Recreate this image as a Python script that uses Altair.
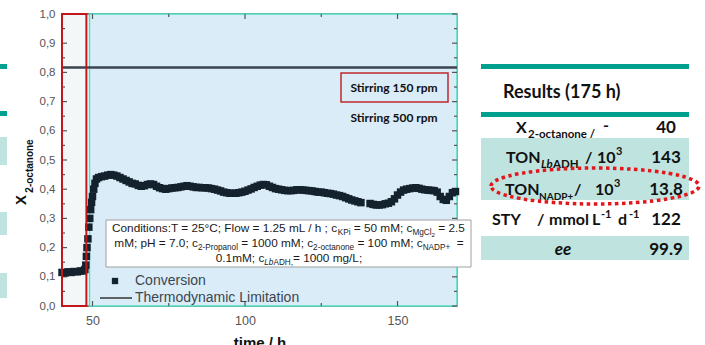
import altair as alt
import pandas as pd

# ---------------- data ----------------
time_h = [40, 41, 42, 43, 44, 45, 46, 47, 47.5, 47.8, 48.0, 48.2, 48.5, 48.8, 49.1, 49.4, 49.7,
          50.0, 50.4, 50.8, 51.3, 52, 53, 54, 55, 56, 57, 58, 59, 60, 61, 62, 63, 64, 65, 66, 67,
          68, 69, 70, 71, 72, 73, 74, 75, 76, 77, 78, 79, 80, 81, 82, 83, 84, 85, 86, 87, 88, 89,
          90, 91, 92, 93, 94, 95, 96, 97, 98, 99, 100, 101, 102, 103, 104, 105, 106, 107, 108,
          109, 110, 111, 112, 113, 114, 115, 116, 117, 118, 119, 120, 121, 122, 123, 124, 125,
          126, 127, 128, 129, 130, 131, 132, 133, 134, 135, 136, 137, 138, 141, 142, 143, 144,
          145, 146, 147, 148, 149, 150, 151, 152, 153, 154, 155, 156, 157, 158, 159, 160, 161,
          162, 163, 164, 165, 166, 167, 168, 169]
conversion = [0.115, 0.113, 0.117, 0.115, 0.118, 0.117, 0.12, 0.12, 0.125, 0.14, 0.17, 0.2, 0.23,
              0.27, 0.30, 0.33, 0.355, 0.375, 0.40, 0.42, 0.435, 0.44, 0.443, 0.445, 0.448, 0.45,
              0.448, 0.445, 0.44, 0.435, 0.43, 0.425, 0.42, 0.418, 0.413, 0.41, 0.412, 0.416,
              0.418, 0.416, 0.41, 0.405, 0.402, 0.40, 0.402, 0.404, 0.405, 0.406, 0.408, 0.41,
              0.412, 0.41, 0.408, 0.406, 0.406, 0.405, 0.405, 0.404, 0.402, 0.40, 0.397, 0.394,
              0.39, 0.388, 0.386, 0.386, 0.386, 0.388, 0.39, 0.393, 0.397, 0.401, 0.406, 0.41,
              0.414, 0.416, 0.415, 0.41, 0.406, 0.402, 0.40, 0.398, 0.396, 0.395, 0.395, 0.396,
              0.398, 0.398, 0.397, 0.396, 0.395, 0.394, 0.392, 0.39, 0.39, 0.388, 0.386, 0.385,
              0.383, 0.38, 0.378, 0.375, 0.371, 0.367, 0.363, 0.36, 0.357, 0.354, 0.351, 0.348,
              0.346, 0.346, 0.347, 0.35, 0.352, 0.357, 0.367, 0.38, 0.39, 0.397, 0.40, 0.402,
              0.404, 0.405, 0.403, 0.40, 0.398, 0.397, 0.396, 0.395, 0.39, 0.375, 0.365, 0.362,
              0.375, 0.388, 0.392]
thermo_limit = [0.817]
phase_start = [40, 49.0]
phase_end = [48, 169.5]
y_tick_values = [0.0, 0.1, 0.2, 0.3, 0.4, 0.5, 0.6, 0.7, 0.8, 0.9, 1.0]
y_minor_ticks = [0.05, 0.15, 0.25, 0.35, 0.45, 0.55, 0.65, 0.75, 0.85, 0.95]
x_tick_values = [50, 100, 150]
x_minor_ticks = [75, 125]
legend_labels = ["Conversion", "Thermodynamic Limitation"]
stirring_labels = ["Stirring  150 rpm", "Stirring 500 rpm"]
results_title = "Results (175 h)"
result_values = ["40", "143", "13.8", "122", "99.9"]

# ---------------- layout ----------------
PL, PT, W, H = 62, 14, 395, 292
X_DOMAIN = [40, 169.5]
xs = alt.Scale(domain=X_DOMAIN, nice=False, zero=False)
ys = alt.Scale(domain=[0, 1], nice=False, zero=False)
X_AXIS = alt.Axis(values=x_tick_values, ticks=False, domain=False, grid=False, labelColor="#555555",
                  labelFontSize=12.5, labelFont="Liberation Sans", labelPadding=8, title=None)
Y_AXIS = alt.Axis(values=y_tick_values, ticks=False, domain=False, grid=False, labelColor="#555555",
                  labelFontSize=11.5, labelFont="Liberation Sans", labelPadding=7, title=None,
                  labelOverlap=False, labelBound=False,
                  labelExpr="replace(format(datum.value, '.1f'), '.', ',')")
ONE = alt.Data(values=[{"a": 1}])


def px(x):
    return x - PL


def py(y):
    return y - PT


def txt(s, x, y, size, weight="normal", style="normal", align="left", baseline="alphabetic",
        color="#111111", font="Lato", angle=None):
    kw = dict(text=s, fontSize=size, fontWeight=weight, fontStyle=style, align=align,
              baseline=baseline, color=color, font=font)
    if angle is not None:
        kw["angle"] = angle
    return alt.Chart(ONE).mark_text(**kw).encode(x=alt.value(px(x)), y=alt.value(py(y)))


def box(x1, x2, y1, y2, fill=None, stroke=None, sw=1.0, opacity=1.0):
    kw = {}
    if fill is not None:
        kw["fill"] = fill
        kw["fillOpacity"] = opacity
    else:
        kw["fillOpacity"] = 0
        kw["fill"] = "white"
    if stroke is not None:
        kw["stroke"] = stroke
        kw["strokeWidth"] = sw
    return alt.Chart(ONE).mark_rect(**kw).encode(
        x=alt.value(px(x1)), x2=alt.value(px(x2)), y=alt.value(py(y1)), y2=alt.value(py(y2)))


# Arial / Liberation Sans advance widths (per 1000 em)
AW = {" ": 278, "(": 333, ")": 333, "+": 584, ",": 278, "-": 333, ".": 278, "/": 278, ":": 278,
      ";": 278, "=": 584, "°": 400, "A": 667, "B": 667, "C": 722, "D": 722, "E": 667, "F": 611,
      "H": 722, "I": 278, "K": 667, "L": 556, "M": 833, "N": 722, "O": 778, "P": 667, "R": 722,
      "S": 667, "T": 611, "a": 556, "b": 556, "c": 500, "d": 556, "e": 556, "g": 556, "h": 556,
      "i": 222, "k": 500, "l": 222, "m": 833, "n": 556, "o": 556, "p": 556, "r": 333, "s": 500,
      "t": 278, "u": 556, "v": 500, "w": 722, "y": 500}


def tw(s, size):
    return sum(AW.get(c, 556) for c in s) / 1000.0 * size


KIND = {"m": (11.8, 0.0), "s": (8.2, 3.0), "ss": (6.2, 5.0)}


def rich_line(segs, y, x_left=None, x_center=None):
    widths = [tw(s, KIND[k][0]) for s, k, _ in segs]
    total = sum(widths)
    x = x_left if x_left is not None else x_center - total / 2.0
    out = []
    for (s, k, it), w in zip(segs, widths):
        size, dy = KIND[k]
        lead = len(s) - len(s.lstrip())
        xd = x + tw(s[:lead], size)
        out.append(txt(s.strip(), xd, y + dy, size, style="italic" if it else "normal",
                       color="#1a1a1a", font="Liberation Sans"))
        x += w
    return out


layers = []

# left-edge slide fragments
for y1, y2 in [(64, 69), (111, 116)]:
    layers.append(box(0, 7, y1, y2, fill="#00a08e"))
for y1, y2 in [(137, 165), (212, 235), (273, 298)]:
    layers.append(box(0, 7, y1, y2, fill="#bfe3df"))

# phase backgrounds
ph = pd.DataFrame({"start": phase_start, "end": phase_end})
layers.append(alt.Chart(ph.iloc[[1]]).mark_rect(fill="#daecf7", stroke="#52e0c4", strokeWidth=1.5).encode(
    x=alt.X("start:Q", scale=xs, axis=X_AXIS), x2="end:Q", y=alt.value(0), y2=alt.value(H)))
layers.append(alt.Chart(ph.iloc[[0]]).mark_rect(fill="#f3f7f7").encode(
    x=alt.X("start:Q", scale=xs, axis=X_AXIS), x2="end:Q", y=alt.value(0), y2=alt.value(H)))

# inward ticks
TC = "#555555"
ytk = pd.DataFrame({"v": y_tick_values})
ymn = pd.DataFrame({"v": y_minor_ticks})
xtk = pd.DataFrame({"v": x_tick_values})
xmn = pd.DataFrame({"v": x_minor_ticks})
for df, ln in [(ytk, 5), (ymn, 3)]:
    layers.append(alt.Chart(df).mark_rule(color=TC, strokeWidth=1.2).encode(
        y=alt.Y("v:Q", scale=ys, axis=Y_AXIS), x=alt.value(0), x2=alt.value(ln)))
    layers.append(alt.Chart(df).mark_rule(color=TC, strokeWidth=1.2).encode(
        y=alt.Y("v:Q", scale=ys, axis=Y_AXIS), x=alt.value(W - ln), x2=alt.value(W)))
for df, ln in [(xtk, 5), (xmn, 3)]:
    layers.append(alt.Chart(df).mark_rule(color=TC, strokeWidth=1.2).encode(
        x=alt.X("v:Q", scale=xs, axis=X_AXIS), y=alt.value(H - ln), y2=alt.value(H)))
    layers.append(alt.Chart(df).mark_rule(color=TC, strokeWidth=1.2).encode(
        x=alt.X("v:Q", scale=xs, axis=X_AXIS), y=alt.value(0), y2=alt.value(ln)))

# thermodynamic limitation
layers.append(alt.Chart(pd.DataFrame({"t": thermo_limit})).mark_rule(color="#3a4550", strokeWidth=2.5).encode(
    y=alt.Y("t:Q", scale=ys, axis=Y_AXIS)))

# conversion data
conv_df = pd.DataFrame({"time": time_h, "conv": conversion})
layers.append(alt.Chart(conv_df).mark_square(size=56, color="#14222e", opacity=1).encode(
    x=alt.X("time:Q", scale=xs, axis=X_AXIS),
    y=alt.Y("conv:Q", scale=ys, axis=Y_AXIS)))

# red box of first phase (outline)
layers.append(alt.Chart(ph.iloc[[0]]).mark_rect(fillOpacity=0, fill="white", stroke="#c0161c", strokeWidth=2).encode(
    x=alt.X("start:Q", scale=xs, axis=X_AXIS), x2="end:Q", y=alt.value(0), y2=alt.value(H)))

# stirring annotations
layers.append(box(341, 448, 73, 102, stroke="#c0282d", sw=1.5))
layers.append(txt(stirring_labels[0], 394, 88, 12, weight="bold", align="center", baseline="middle"))
layers.append(txt(stirring_labels[1], 394, 118, 12, weight="bold", align="center", baseline="middle"))

# conditions box
layers.append(box(106, 471, 220, 267, fill="white", stroke="#a0a0a0", sw=1))
line1 = [("Conditions:T = 25°C; Flow = 1.25 mL / h ; c", "m", False), ("KPi", "s", False),
         (" = 50 mM; c", "m", False), ("MgCl", "s", False), ("2", "ss", False), (" = 2.5", "m", False)]
line2 = [("mM; pH = 7.0; c", "m", False), ("2-Propanol", "s", False), (" = 1000 mM; c", "m", False),
         ("2-octanone", "s", False), (" = 100 mM; c", "m", False), ("NADP+", "s", False), ("  =", "m", False)]
line3 = [("0.1mM; c", "m", False), ("Lb", "s", True), ("ADH,", "s", False), ("= 1000 mg/L;", "m", False)]
layers += rich_line(line1, 232, x_left=112)
layers += rich_line(line2, 247, x_center=289)
layers += rich_line(line3, 262, x_center=289)

# legend
LC = "#3c4650"
layers.append(alt.Chart(ONE).mark_square(size=40, color="#14222e", opacity=1).encode(
    x=alt.value(px(115)), y=alt.value(py(281))))
layers.append(alt.Chart(ONE).mark_rule(color="#333333", strokeWidth=1.5).encode(
    x=alt.value(px(100)), x2=alt.value(px(132)), y=alt.value(py(298))))
layers.append(txt(legend_labels[0], 135, 281, 14, baseline="middle", color=LC, font="Liberation Sans"))
layers.append(txt(legend_labels[1], 135, 298, 14, baseline="middle", color=LC, font="Liberation Sans"))

# axis titles
layers.append(txt("X", 21, 200, 15, weight="bold", align="center", baseline="middle",
                  font="Liberation Sans", angle=270))
layers.append(txt("2-octanone", 30, 166, 10, weight="bold", align="center", baseline="middle",
                  font="Liberation Sans", angle=270))
layers.append(txt("time / h", 260, 336, 15, weight="bold", align="center", baseline="top",
                  font="Liberation Sans"))

# ---------------- results table ----------------
TEAL = "#00a08e"
HATCH = "#bfe3df"
layers.append(box(481, 689, 64, 69, fill=TEAL))
layers.append(box(481, 689, 112, 117, fill=TEAL))
layers.append(box(481, 689, 138, 200, fill=HATCH))
layers.append(box(481, 689, 236, 260, fill=HATCH))
layers.append(txt(results_title, 503, 98, 18, weight="bold"))

RS = 16
segs = [
    ("X", 516, 133, RS, False), ("2-octanone /", 528, 138, 11.5, False), ("-", 603, 131, RS, False),
    ("TON", 506, 163, RS, False), ("Lb", 541, 168, 11.5, True), ("ADH", 553, 168, 11.5, False),
    ("/", 585, 163, RS, False), ("10", 597, 163, RS, False), ("3", 616, 155, 11, False),
    ("TON", 505, 195, RS, False), ("NADP+", 539, 200, 10, False), ("/", 574, 195, RS, False),
    ("10", 595, 195, RS, False), ("3", 614, 187, 11, False),
    ("STY", 492, 225, RS, False), ("/", 537, 225, RS, False), ("mmol", 549, 225, RS, False),
    ("L", 592, 225, RS, False), ("-1", 601, 218, 11, False), ("d", 618, 225, RS, False),
    ("-1", 629, 218, 11, False),
]
for s, x, y, size, it in segs:
    layers.append(txt(s, x, y, size, weight="bold", style="italic" if it else "normal"))
layers.append(txt("ee", 563, 255, RS + 1, weight="bold", style="italic", align="center"))
for v, yb in zip(result_values, [133, 163, 195, 225, 255]):
    layers.append(txt(v, 666, yb, 17, weight="bold", align="center"))

# red dotted ellipse around TON NADP+
ELL = ("M -1 0 C -1 -0.0956 -0.5523 -0.173 0 -0.173 C 0.5523 -0.173 1 -0.0956 1 0 "
       "C 1 0.0956 0.5523 0.173 0 0.173 C -0.5523 0.173 -1 0.0956 -1 0 Z")
layers.append(alt.Chart(ONE).mark_point(shape=ELL, size=208 * 208, filled=False, color="#e3161c",
                                        strokeWidth=3.5, strokeDash=[3.5, 3.5], opacity=1).encode(
    x=alt.value(px(595)), y=alt.value(py(186))))

chart = alt.layer(*layers).properties(
    width=W, height=H,
    padding={"left": PL, "top": PT, "right": 705 - PL - W, "bottom": 345 - PT - H},
    autosize=alt.AutoSizeParams(type="none"),
    background="white",
).configure_view(stroke="#555555", strokeWidth=1.5)

chart.save("out.html", embed_options={"renderer": "svg", "actions": False})
